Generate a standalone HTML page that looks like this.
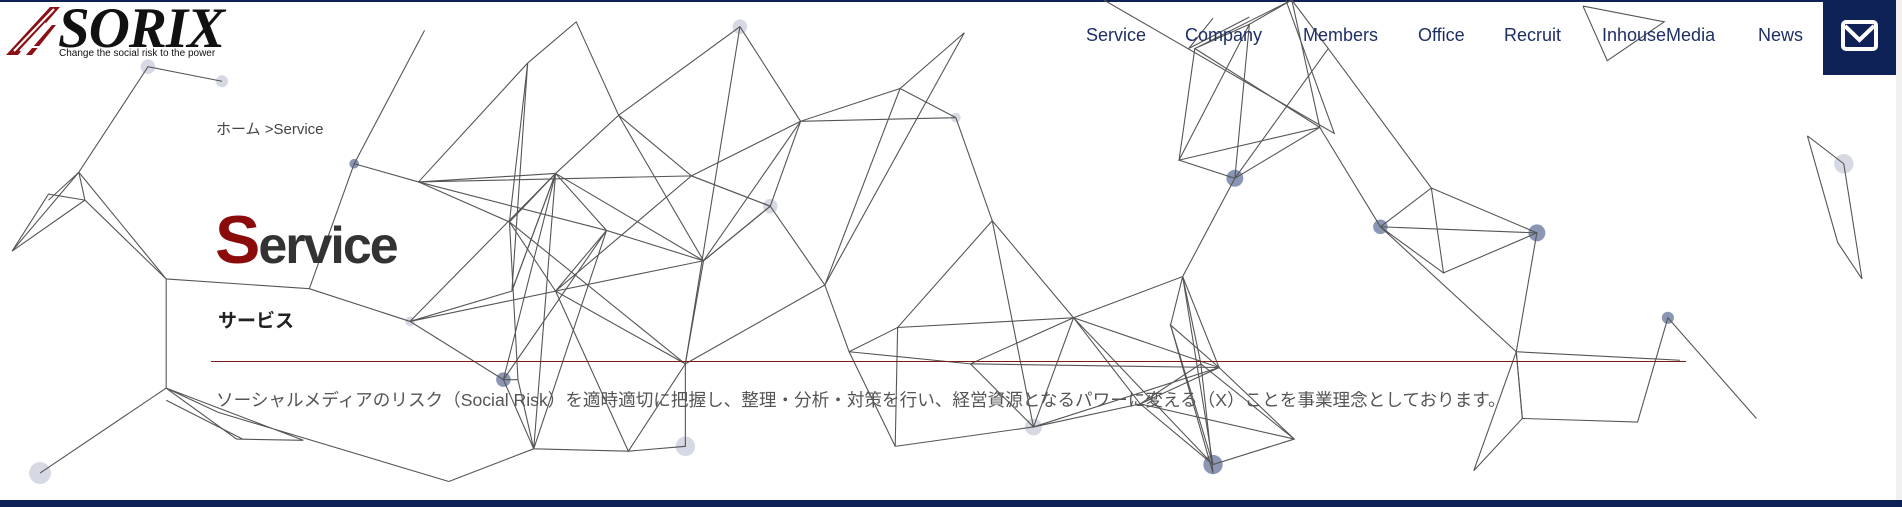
<!DOCTYPE html>
<html><head><meta charset="utf-8"><style>
html,body{margin:0;padding:0;}
body{width:1902px;height:507px;position:relative;overflow:hidden;background:#fff;font-family:"Liberation Sans","Noto Sans CJK JP",sans-serif;}
.top{position:absolute;left:0;top:0;width:1902px;height:2px;background:#0f2257;}
.bot{position:absolute;left:0;top:500px;width:1902px;height:7px;background:#0f2257;}
.sb{position:absolute;right:0;top:0;width:6px;height:500px;background:#f0f0f0;}
svg.net{position:absolute;left:0;top:0;}
.abs{position:absolute;white-space:nowrap;}
.nav{top:25px;font-size:18px;color:#1e2f66;}
</style></head><body>
<div class="top"></div>
<svg class="net" width="1902" height="507" viewBox="0 0 1568 418" preserveAspectRatio="none">
<g fill="#d6d9e3">
<circle cx="122" cy="55" r="6"/><circle cx="183" cy="67" r="5"/><circle cx="33" cy="390" r="9"/><circle cx="565" cy="368" r="8"/><circle cx="610" cy="22" r="6"/><circle cx="1520" cy="135" r="8"/><circle cx="852" cy="352" r="7"/><circle cx="635" cy="170" r="6"/><circle cx="338" cy="265" r="4"/><circle cx="788" cy="97" r="4"/>
</g>
<g fill="#8a96b4">
<circle cx="292" cy="135" r="4"/><circle cx="1018" cy="147" r="7"/><circle cx="1138" cy="187" r="6"/><circle cx="1267" cy="192" r="7"/><circle cx="1375" cy="262" r="5"/><circle cx="1000" cy="383" r="8"/><circle cx="415" cy="313" r="6"/>
</g>
<g stroke="#555" stroke-width="0.9" fill="none">
<polyline points="183,67 122,55 65,142 10,207 65,142 137,230 255,238 292,135 350,25"/>
<polyline points="40,165 65,142 70,165 40,160 10,207 70,165 137,230"/>
<polyline points="137,230 137,320 33,390"/>
<polyline points="137,320 195,362 250,363 137,320 180,340 370,397"/>
<polyline points="137,330 200,362"/>
<polyline points="255,238 338,265 415,313 440,370 370,397"/>
<polyline points="292,135 345,150 420,183 458,240 338,265 422,240 458,143 338,265"/>
<polyline points="345,150 435,52 475,18 510,95 458,143 345,150 570,145 510,95 610,22 660,100 570,145"/>
<polyline points="435,52 420,183 427,313 415,313 458,143 440,370 500,190 458,240 570,145 635,170 580,215 510,95"/>
<polyline points="420,183 565,300 580,215 458,240 565,300 518,372 458,240"/>
<polyline points="427,313 440,370 518,372 565,368 565,300 610,22"/>
<polyline points="420,183 458,143 422,240 435,52"/>
<polyline points="415,313 500,190 458,143 580,215 660,100 742,73 795,27 680,235 635,170 570,145"/>
<polyline points="345,150 500,190 580,215 635,170 660,100 788,97 742,73 680,235 565,300"/>
<polyline points="680,235 700,290 740,270 818,182 788,97"/>
<polyline points="700,290 738,368 740,270 885,262 818,182 852,352 738,368"/>
<polyline points="700,290 800,300 885,262 975,228 1005,303 852,352 800,300 1005,303 1067,362 1000,383 975,228"/>
<polyline points="885,262 940,333 1000,383 885,262 852,352 940,333 990,300 975,228 965,268 1000,383"/>
<polyline points="885,262 1005,303 940,333 1067,362 990,300 1000,390 965,268 1005,303"/>
<polyline points="975,228 1018,147 972,132 985,40 1030,20 1065,0 1088,105 1018,147 1095,40 1065,0 985,40 1088,105 972,132 1030,20 1018,147"/>
<polyline points="1095,40 1180,155 1138,187 1267,192 1180,155 1190,225 1138,187 1250,290 1255,345 1350,348 1375,262 1448,345 1375,262 1350,348"/>
<polyline points="1088,105 1138,187"/>
<polyline points="1190,225 1267,192 1250,290 1215,388 1255,345 1250,290 1385,297"/>
<polyline points="1305,5 1372,18 1325,50 1305,5"/>
<polyline points="1490,112 1520,135 1535,230 1515,200 1490,112"/>
<polyline points="910,0 1100,110 1060,0"/>
<polyline points="1000,15 980,40 1030,14"/>
</g>
</svg>
<svg class="abs" style="left:6px;top:7px" width="56" height="48" viewBox="0 0 56 48">
<g fill="#8a1116"><polygon points="0,48 44,0 54,0 12,48"/><polygon points="20,48 46,18 50,18 26,48"/></g>
<g stroke="#fff" stroke-width="2" fill="none"><line x1="8" y1="44" x2="48" y2="2"/><line x1="14" y1="44" x2="40" y2="16"/><line x1="18" y1="40" x2="50" y2="40"/></g>
</svg>
<div class="abs" style="left:58px;top:-4px;font-family:'Liberation Serif',serif;font-style:italic;font-weight:bold;font-size:57px;color:#111;letter-spacing:-1px;">SORIX</div>
<div class="abs" style="left:59px;top:48px;font-size:10px;color:#111;">Change the social risk to the power</div>
<div class="abs nav" style="left:1086px">Service</div>
<div class="abs nav" style="left:1185px">Company</div>
<div class="abs nav" style="left:1303px">Members</div>
<div class="abs nav" style="left:1418px">Office</div>
<div class="abs nav" style="left:1504px">Recruit</div>
<div class="abs nav" style="left:1602px">InhouseMedia</div>
<div class="abs nav" style="left:1758px">News</div>
<div class="abs" style="left:1823px;top:0;width:73px;height:75px;background:#0f2257;">
<svg width="73" height="75"><rect x="20" y="22" width="33" height="27" rx="3" fill="none" stroke="#fff" stroke-width="4"/><polyline points="22,26 36.5,40 51,26" fill="none" stroke="#fff" stroke-width="4"/></svg>
</div>
<div class="abs" style="left:216px;top:118px;font-size:15px;color:#444;">ホーム &gt;Service</div>
<div class="abs" style="left:215px;top:205px;font-weight:bold;color:#333;line-height:70px;letter-spacing:-2px;"><span style="color:#8b0a0a;font-size:68px;">S</span><span style="font-size:52px;">ervice</span></div>
<div class="abs" style="left:218px;top:306px;font-size:19px;font-weight:bold;color:#222;">サービス</div>
<div class="abs" style="left:211px;top:361px;width:1475px;height:1px;background:#7a1a1a;"></div>
<div class="abs" style="left:216px;top:387px;font-size:17.6px;color:#555;">ソーシャルメディアのリスク（Social Risk）を適時適切に把握し、整理・分析・対策を行い、経営資源となるパワーに変える（X）ことを事業理念としております。</div>
<div class="sb"></div>
<div class="bot"></div>
</body></html>
